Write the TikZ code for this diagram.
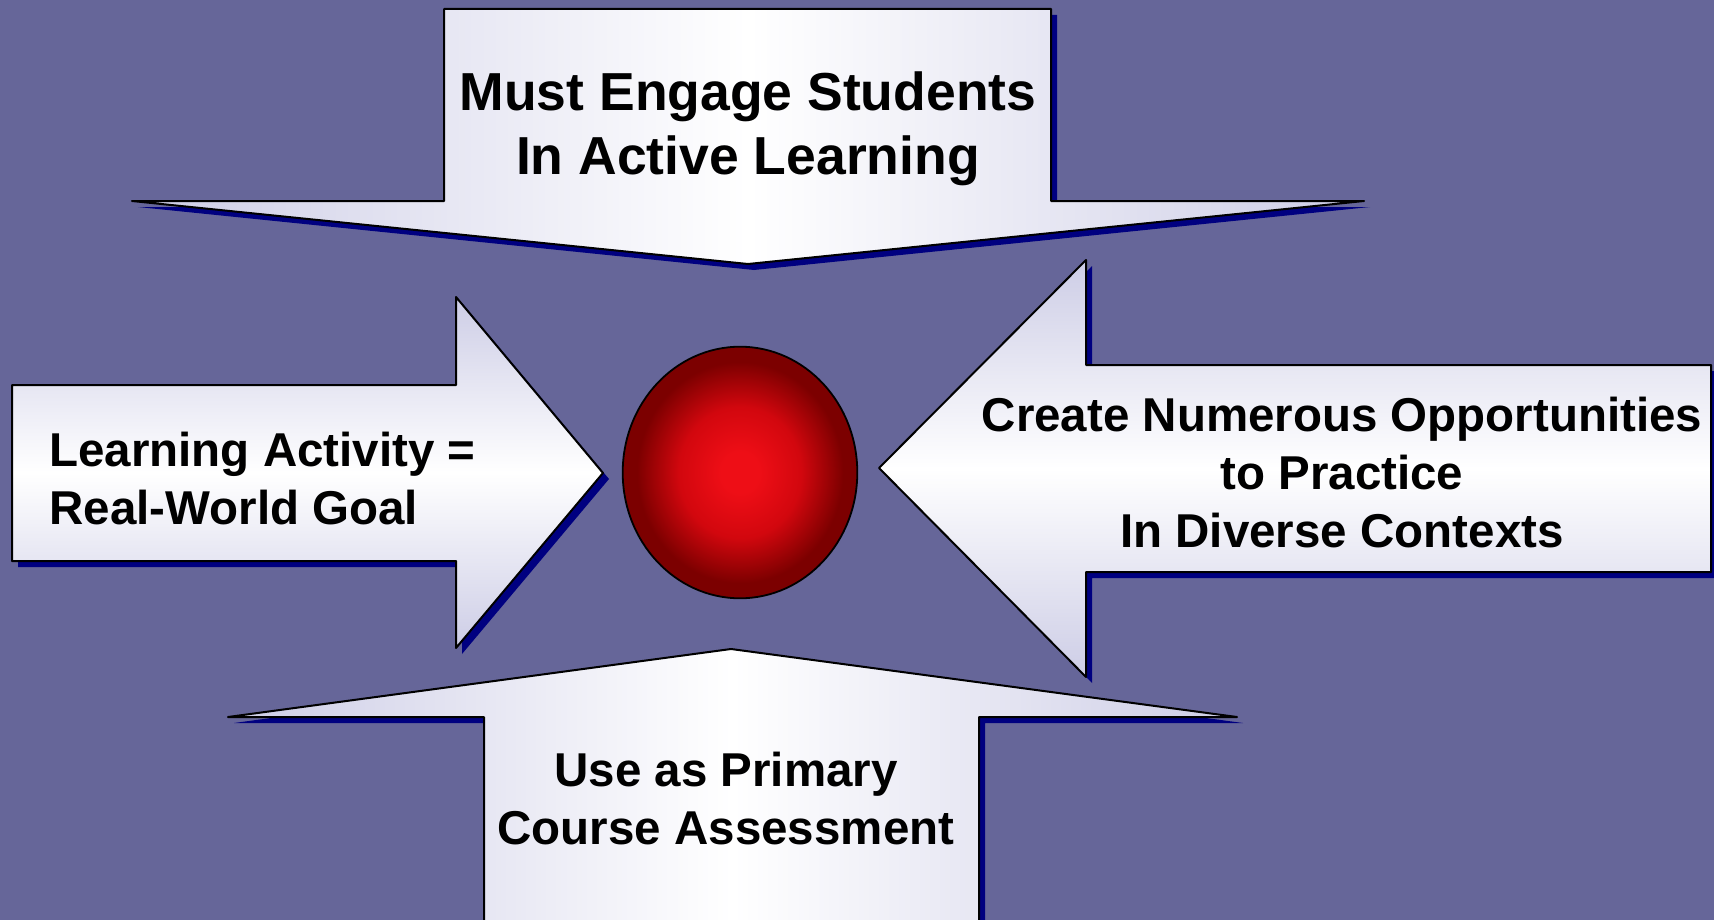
\documentclass[tikz,border=0pt]{standalone}
\usepackage{fontspec}
\setmainfont{Liberation Sans}
\usetikzlibrary{shadows,shapes.geometric}

\definecolor{bgblue}{HTML}{666699}
\definecolor{shadownavy}{HTML}{000080}
\definecolor{lavedge}{HTML}{CDCDE6}
\definecolor{ballin}{HTML}{EE0E16}
\definecolor{ballmid}{HTML}{D2070E}
\definecolor{ballout}{HTML}{7C0000}
\pgfdeclareradialshading{ballglow}{\pgfpoint{0bp}{0bp}}{color(0bp)=(ballin); color(4bp)=(ballin); color(13bp)=(ballmid); color(22bp)=(ballout); color(25bp)=(ballout); color(50bp)=(ballout)}

\begin{document}
\begin{tikzpicture}[x=0.5pt, y=-0.5pt,
    bigarrow/.style={draw=black, line width=1pt, line join=round,
        drop shadow={shadow xshift=3pt, shadow yshift=-3pt, fill=shadownavy, opacity=1}},
    across/.style={bigarrow, left color=lavedge, right color=lavedge, middle color=white},
    updown/.style={bigarrow, top color=lavedge, bottom color=lavedge, middle color=white},
    ball/.style={ellipse, draw=black, line width=0.9pt, shade, shading=ballglow,
        minimum width=117.3pt, minimum height=125.8pt, inner sep=0pt},
    bigtext/.style={font=\fontsize{26.75}{32}\selectfont\bfseries, inner sep=0pt, align=center, anchor=north},
    smalltext/.style={font=\fontsize{23.75}{28.8}\selectfont\bfseries, inner sep=0pt, anchor=north}]
    \fill[bgblue] (0,0) rectangle (1714,920);
    \clip (0,0) rectangle (1714,920);

    % arrows
    \path[across] (444,9) -- (1051,9) -- (1051,201) -- (1364,201) -- (748,264)
        -- (132,201) -- (444,201) -- cycle;
    \path[updown] (12,385) -- (456,385) -- (456,297) -- (603,473) -- (456,648)
        -- (456,561) -- (12,561) -- cycle;
    \path[updown] (1711,365) -- (1086,365) -- (1086,260) -- (879,468) -- (1086,677)
        -- (1086,572) -- (1711,572) -- cycle;
    \path[across] (484,930) -- (484,717) -- (228,717) -- (731,649) -- (1237,717)
        -- (979,717) -- (979,930) -- cycle;

    \node[ball] (core) at (740,472.5) {};

    % labels
    \node[bigtext] (engage) at (748,71) {Must Engage Students\\In Active Learning};
    \node[smalltext, anchor=north west, align=left] (goal) at (49,432) {Learning Activity =\\Real-World Goal};
    \node[smalltext, align=center] (practice) at (1342,397) {Create Numerous Opportunities\\to Practice\\In Diverse Contexts};
    \node[smalltext, align=center] (assess) at (726,752) {Use as Primary\\Course Assessment};
\end{tikzpicture}
\end{document}
